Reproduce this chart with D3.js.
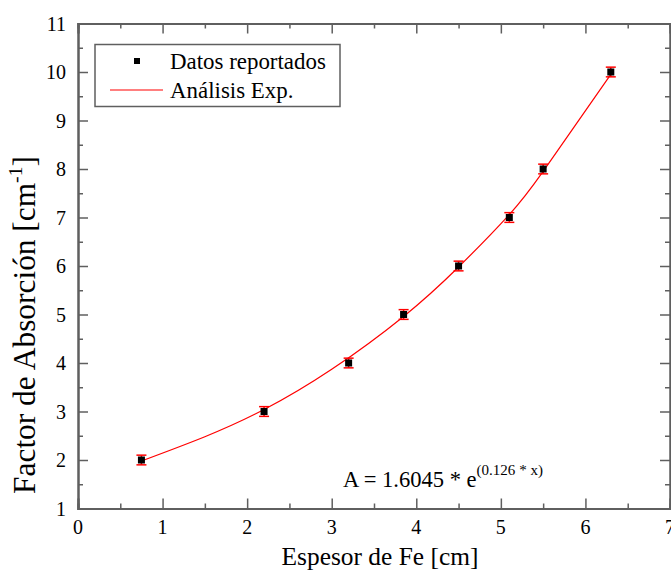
<!DOCTYPE html>
<html>
<head>
<meta charset="utf-8">
<script src="https://cdn.jsdelivr.net/npm/d3@7"></script>
<style>
  body { margin: 0; background: #fff; }
  svg text { font-family: "Liberation Serif", Tinos, "DejaVu Serif", "Noto Serif", Georgia, serif; }
</style>
</head>
<body>
<svg id="chart" width="671" height="577"></svg>
<script>
// measured points
const espesor = [0.75, 2.2, 3.2, 3.85, 4.5, 5.1, 5.5, 6.3];
const absorcion = [2, 3, 4, 5, 6, 7, 8, 10];
const errAbs = [0.1, 0.1, 0.1, 0.1, 0.1, 0.1, 0.1, 0.1];

// fitted curve
const fitX = [0.75, 1.5, 2.2, 3.0, 3.85, 4.5, 5.1, 5.5, 6.3];
const fitY = [1.98, 2.48, 3.04, 3.87, 4.96, 5.98, 7.06, 7.95, 9.95];

const xTicks = [0, 1, 2, 3, 4, 5, 6, 7];
const yTicks = [1, 2, 3, 4, 5, 6, 7, 8, 9, 10, 11];

const svg = d3.select('#chart');
const m = { left: 78, right: 670, top: 23.5, bottom: 508.5 };

const x = d3.scaleLinear().domain([0, 7]).range([m.left, m.right]);
const y = d3.scaleLinear().domain([1, 11]).range([m.bottom, m.top]);

const frameColor = '#5f5f5f';

// scale a text's font so it spans about the same width as in the original
function fitWidth(sel, target) {
    const w = sel.node().getComputedTextLength();
    const k = target / w;
    sel.attr('font-size', +sel.attr('font-size') * k);
    sel.selectAll('tspan').each(function () {
        const t = d3.select(this);
        if (t.attr('font-size')) t.attr('font-size', +t.attr('font-size') * k);
        if (t.attr('dy')) t.attr('dy', +t.attr('dy') * k);
    });
    return k;
}

// axes: ticks pointing inward, labels on bottom and left only
const minorX = d3.range(0.5, 7, 1);
const minorY = d3.range(1.5, 11, 1);

function frame(vals, size) {
    svg.append('g').attr('transform', `translate(0,${m.bottom})`)
        .call(d3.axisTop(x).tickValues(vals[0]).tickSize(size).tickFormat(''));
    svg.append('g').attr('transform', `translate(0,${m.top})`)
        .call(d3.axisBottom(x).tickValues(vals[0]).tickSize(size).tickFormat(''));
    svg.append('g').attr('transform', `translate(${m.left},0)`)
        .call(d3.axisRight(y).tickValues(vals[1]).tickSize(size).tickFormat(''));
    svg.append('g').attr('transform', `translate(${m.right},0)`)
        .call(d3.axisLeft(y).tickValues(vals[1]).tickSize(size).tickFormat(''));
}
frame([xTicks, yTicks], 10);
frame([minorX, minorY], 5);

svg.selectAll('.domain').attr('stroke', frameColor).attr('stroke-width', 2);
svg.selectAll('.tick line').attr('stroke', frameColor).attr('stroke-width', 1.5);

// tick labels: "10" is ~20px wide in the original
const probe = svg.append('text').attr('font-size', 20).text('10');
const tickFs = 20 * 20 / probe.node().getComputedTextLength();
probe.remove();

svg.append('g').selectAll('text').data(xTicks).join('text')
    .attr('x', d => x(d)).attr('y', 534)
    .attr('text-anchor', 'middle')
    .attr('font-size', tickFs)
    .text(d => d);
svg.append('g').selectAll('text').data(yTicks).join('text')
    .attr('x', 66).attr('y', d => y(d) + 7)
    .attr('text-anchor', 'end')
    .attr('font-size', tickFs)
    .text(d => d);

// axis titles
const xt = svg.append('text')
    .attr('x', 380).attr('y', 565)
    .attr('text-anchor', 'middle')
    .attr('font-size', 21)
    .text('Espesor de Fe [cm]');
fitWidth(xt, 197);

const yt = svg.append('text')
    .attr('transform', 'translate(35,325) rotate(-90)')
    .attr('text-anchor', 'middle')
    .attr('font-size', 24);
yt.append('tspan').text('Factor de Absorción [cm');
yt.append('tspan').attr('font-size', 15).attr('dy', -10).text('-1');
yt.append('tspan').attr('dy', 10).text(']');
fitWidth(yt, 338);

// fit line
const line = d3.line().x(d => x(d[0])).y(d => y(d[1])).curve(d3.curveNatural);
svg.append('path')
    .datum(d3.zip(fitX, fitY))
    .attr('d', line)
    .attr('fill', 'none')
    .attr('stroke', '#f00')
    .attr('stroke-width', 1.2);

// error bars
const pts = d3.zip(espesor, absorcion, errAbs);
const eb = svg.append('g').attr('stroke', '#f00').attr('stroke-width', 1.5);
eb.selectAll('.v').data(pts).join('line')
    .attr('x1', d => x(d[0])).attr('x2', d => x(d[0]))
    .attr('y1', d => y(d[1] - d[2])).attr('y2', d => y(d[1] + d[2]));
eb.selectAll('.cl').data(pts).join('line')
    .attr('x1', d => x(d[0]) - 5).attr('x2', d => x(d[0]) + 5)
    .attr('y1', d => y(d[1] - d[2])).attr('y2', d => y(d[1] - d[2]));
eb.selectAll('.ch').data(pts).join('line')
    .attr('x1', d => x(d[0]) - 5).attr('x2', d => x(d[0]) + 5)
    .attr('y1', d => y(d[1] + d[2])).attr('y2', d => y(d[1] + d[2]));

// markers
svg.append('g').selectAll('rect').data(pts).join('rect')
    .attr('x', d => x(d[0]) - 3.5).attr('y', d => y(d[1]) - 3.5)
    .attr('width', 7).attr('height', 7)
    .attr('fill', '#000');

// legend
const lg = svg.append('g');
lg.append('rect')
    .attr('x', 95).attr('y', 44.5).attr('width', 245).attr('height', 62)
    .attr('fill', '#fff').attr('stroke', frameColor).attr('stroke-width', 1.5);
lg.append('rect').attr('x', 134).attr('y', 58).attr('width', 6).attr('height', 6).attr('fill', '#000');
lg.append('line').attr('x1', 110).attr('x2', 163).attr('y1', 90).attr('y2', 90)
    .attr('stroke', '#f00').attr('stroke-width', 1.2);
const l1 = lg.append('text').attr('x', 170).attr('y', 69).attr('font-size', 21).text('Datos reportados');
const kLeg = fitWidth(l1, 156);
lg.append('text').attr('x', 170).attr('y', 98).attr('font-size', 21 * kLeg).text('Análisis Exp.');

// fit equation
const eq = svg.append('text').attr('x', 343).attr('y', 487).attr('font-size', 21);
eq.append('tspan').text('A = 1.6045 * e');
eq.append('tspan').attr('font-size', 14).attr('dy', -11).text('(0.126 * x)');
fitWidth(eq, 200);
</script>
</body>
</html>
